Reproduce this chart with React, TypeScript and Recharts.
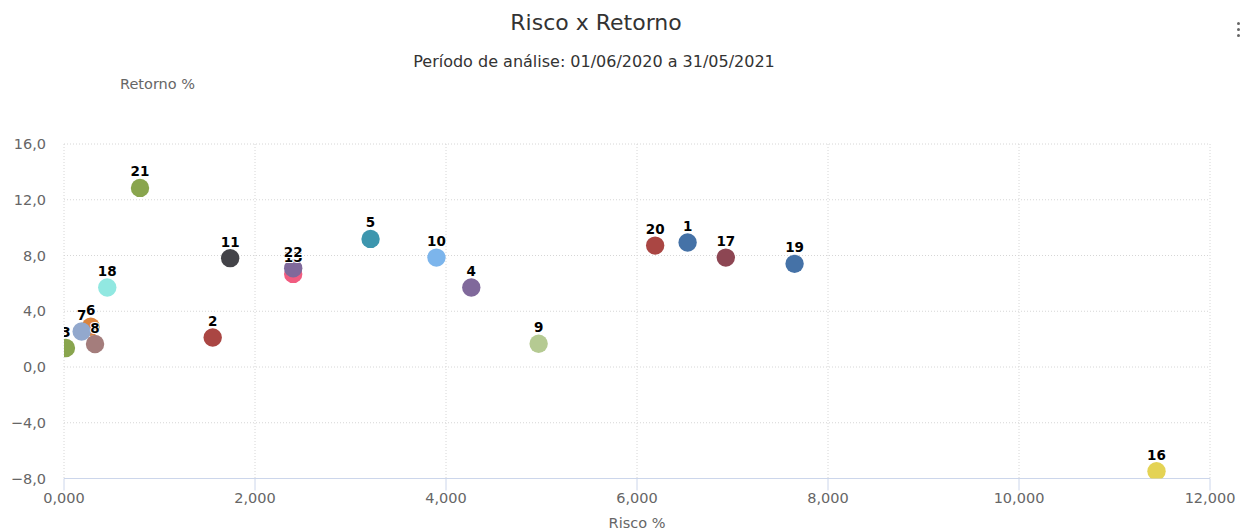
import React from 'react';
import { ScatterChart, Scatter, XAxis, YAxis, CartesianGrid } from 'recharts';

const seriesNames = ['1', '2', '3', '4', '5', '6', '7', '8', '9', '10', '11', '15', '16', '17', '18', '19', '20', '21', '22'];
const riskValues = [6.53, 1.557, 0.02, 4.265, 3.21, 0.28, 0.185, 0.325, 4.97, 3.9, 1.74, 2.4, 11.44, 6.93, 0.453, 7.65, 6.19, 0.796, 2.4];
const returnValues = [8.93, 2.12, 1.36, 5.7, 9.19, 2.89, 2.55, 1.65, 1.67, 7.85, 7.81, 6.68, -7.48, 7.85, 5.7, 7.4, 8.71, 12.85, 7.08];
const seriesColors = ['#4572A7', '#AA4643', '#89A54E', '#80699B', '#3D96AE', '#DB843D', '#92A8CD', '#A47D7C', '#B5CA92', '#7cb5ec', '#434348', '#f15c80', '#e4d354', '#8d4653', '#91e8e1', '#4572A7', '#AA4643', '#89A54E', '#80699B'];
const xTicks = [0, 2, 4, 6, 8, 10, 12];
const yTicks = [-8, -4, 0, 4, 8, 12, 16];

const data = seriesNames.map((name, i) => ({ name, x: riskValues[i], y: returnValues[i], color: seriesColors[i] }));

const FONT = "'DejaVu Sans', Verdana, sans-serif";

const fmtY = (v: number) => (v < 0 ? '\u2212' : '') + Math.abs(v).toFixed(1).replace('.', ',');
const fmtX = (v: number) => v.toFixed(3).replace('.', ',');

const CircleShape = (props: any) => (
  <circle cx={props.cx} cy={props.cy} r={9.2} fill={props.payload.color} />
);

const LabelShape = (props: any) => (
  <text
    x={props.cx}
    y={props.cy - 11.5}
    textAnchor="middle"
    fontFamily={FONT}
    fontWeight="bold"
    fontSize={13.5}
    fill="#000"
    stroke="#fff"
    strokeWidth={2}
    strokeLinejoin="round"
    paintOrder="stroke"
  >
    {props.payload.name}
  </text>
);

export default function App() {
  return (
    <div style={{ position: 'absolute', left: 0, top: 0, width: 1241, height: 532, background: '#fff', fontFamily: FONT }}>
      <div style={{ position: 'absolute', left: 596, top: 10, transform: 'translateX(-50%)', whiteSpace: 'nowrap', fontSize: 22, lineHeight: '26px', color: '#333' }}>
        Risco x Retorno
      </div>
      <div style={{ position: 'absolute', left: 594, top: 52, transform: 'translateX(-50%)', whiteSpace: 'nowrap', fontSize: 16, lineHeight: '20px', color: '#333' }}>
        Período de análise: 01/06/2020 a 31/05/2021
      </div>
      <div style={{ position: 'absolute', left: 120, top: 75, whiteSpace: 'nowrap', fontSize: 14.5, lineHeight: '18px', color: '#666' }}>
        Retorno %
      </div>
      <div style={{ position: 'absolute', left: 637, top: 514, transform: 'translateX(-50%)', whiteSpace: 'nowrap', fontSize: 14.5, lineHeight: '18px', color: '#666' }}>
        Risco %
      </div>
      {[23, 29, 35].map((t) => (
        <div key={t} style={{ position: 'absolute', left: 1237, top: t - 1.5, width: 3, height: 3, borderRadius: 1.5, background: '#666' }} />
      ))}
      <div style={{ position: 'absolute', left: 0, top: 0 }}>
        <ScatterChart width={1241} height={532} margin={{ top: 144, right: 31, bottom: 23.5, left: 8 }}>
          <CartesianGrid stroke="#d6d6d6" strokeDasharray="1 2" />
          <XAxis
            type="number"
            dataKey="x"
            domain={[0, 12]}
            ticks={xTicks}
            tickFormatter={fmtX}
            height={30}
            tickSize={12}
            tickMargin={2}
            axisLine={{ stroke: '#ccd6eb' }}
            tickLine={{ stroke: '#ccd6eb' }}
            tick={{ fill: '#666', fontSize: 14.5, fontFamily: FONT }}
            allowDataOverflow
          />
          <YAxis
            type="number"
            dataKey="y"
            domain={[-8, 16]}
            ticks={yTicks}
            tickFormatter={fmtY}
            width={56}
            tickSize={0}
            tickMargin={18}
            axisLine={false}
            tickLine={false}
            tick={{ fill: '#666', fontSize: 14.5, fontFamily: FONT }}
            allowDataOverflow
          />
          <Scatter data={data} isAnimationActive={false} shape={CircleShape} />
          <Scatter data={data} isAnimationActive={false} shape={LabelShape} />
        </ScatterChart>
      </div>
    </div>
  );
}
